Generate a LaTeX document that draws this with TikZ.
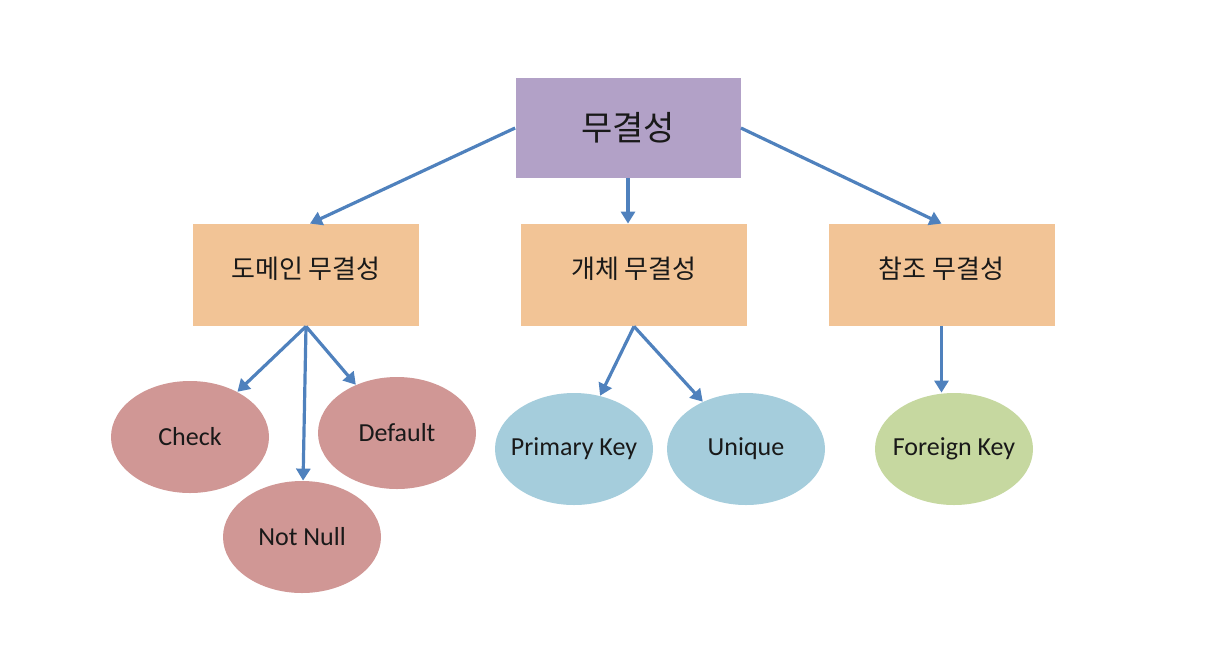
\documentclass[tikz,border=0pt]{standalone}
\usepackage{fontspec}
\setmainfont{Carlito}
\newfontfamily\kr{Noto Sans CJK KR}
\usetikzlibrary{arrows.meta, shapes.geometric}

\definecolor{toppurple}{RGB}{178,161,199}
\definecolor{boxorange}{RGB}{242,196,150}
\definecolor{ovalred}{RGB}{208,151,149}
\definecolor{ovalblue}{RGB}{165,205,220}
\definecolor{ovalgreen}{RGB}{198,216,160}
\definecolor{linkblue}{RGB}{79,129,189}

\begin{document}
\begin{tikzpicture}[x=0.5pt, y=-0.5pt]
        % Styles
        \tikzstyle{topbox} = [fill=toppurple, minimum width=112.5pt, minimum height=50pt, inner sep=0pt,
                              text=black!90, font=\kr\fontsize{17}{20}\selectfont]
        \tikzstyle{kindbox} = [fill=boxorange, minimum width=113pt, minimum height=51pt, inner sep=0pt,
                               text height=3.5pt, text depth=0pt, text=black!90, font=\kr\fontsize{13}{15}\selectfont]
        \tikzstyle{rule} = [ellipse, minimum width=79pt, minimum height=56pt, inner xsep=-12pt, inner ysep=0pt,
                            text=black!90, font=\fontsize{13}{15}\selectfont]
        \tikzstyle{link} = [-{Triangle[length=6pt, width=7pt]}, line width=1.6pt, linkblue]

        \useasboundingbox (0,0) rectangle (1228,644);

        % Root
        \node[topbox] (top) at (628,128) {무결성};

        % Kinds of integrity
        \node[kindbox] (domain) at (306,275) {도메인 무결성};
        \node[kindbox] (entity) at (634,275) {개체 무결성};
        \node[kindbox] (refer) at (941.5,275) {참조 무결성};

        % Constraints - domain
        \node[rule, fill=ovalred] (check) at (190,437) {Check};
        \node[rule, fill=ovalred] (default) at (397,433) {Default};
        \node[rule, fill=ovalred] (notnull) at (302,537) {Not Null};

        % Constraints - entity
        \node[rule, fill=ovalblue] (pk) at (574,449) {Primary Key};
        \node[rule, fill=ovalblue] (unique) at (746,449) {Unique};

        % Constraints - referential
        \node[rule, fill=ovalgreen] (fk) at (954,449) {Foreign Key};

        % Root to kinds
        \draw[link] (top.west) -- ([xshift=2pt]domain.north);
        \draw[link] (top.south) -- (top.south |- entity.north);
        \draw[link] (top.east) -- (refer.north);

        % Kinds to constraints
        \draw[link] (domain.south) -- (check);
        \draw[link] (domain.south) -- (notnull);
        \draw[link] (domain.south) -- (default);
        \draw[link] (entity.south) -- (pk);
        \draw[link] (entity.south) -- (unique);
        \draw[link] (refer.south) -- (refer.south |- fk.north);
\end{tikzpicture}
\end{document}
